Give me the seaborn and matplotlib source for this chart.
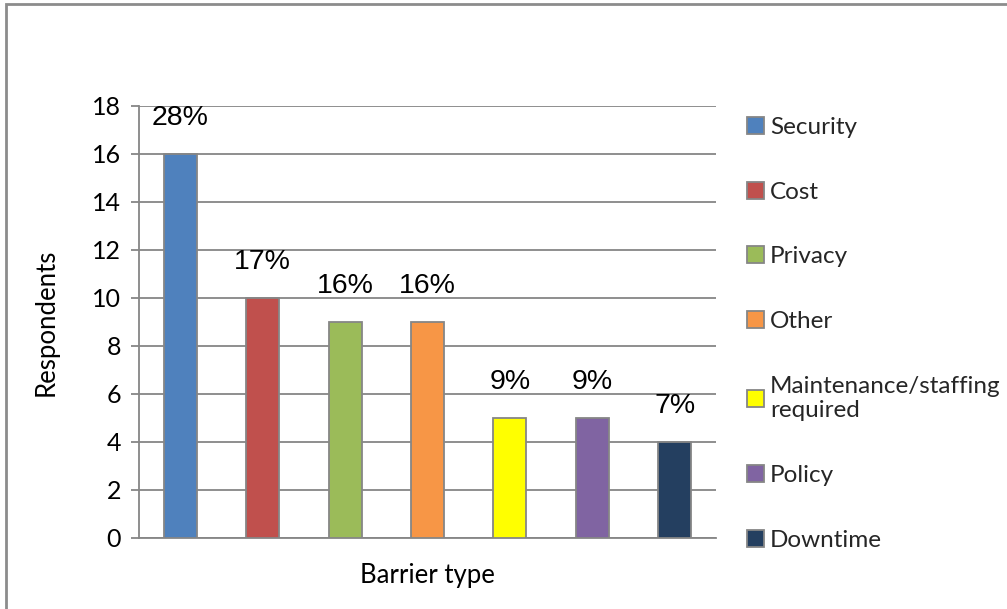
import matplotlib
matplotlib.use("Agg")
import matplotlib.pyplot as plt
from matplotlib.patches import Patch, Rectangle
import seaborn as sns
import pandas as pd

# Data
barriers = ["Security", "Cost", "Privacy", "Other",
            "Maintenance/staffing\nrequired", "Policy", "Downtime"]
respondents = [16, 10, 9, 9, 5, 5, 4]
percent_labels = ["28%", "17%", "16%", "16%", "9%", "9%", "7%"]
colors = ["#4F81BD", "#C0504D", "#9BBB59", "#F79646",
          "#FFFF00", "#8064A2", "#243F60"]
yticks = list(range(0, 19, 2))

df = pd.DataFrame({"barrier": barriers, "respondents": respondents})

sns.set_theme(style="white")
plt.rcParams["font.family"] = ["Lato", "DejaVu Sans"]

grid_col = "#868686"

fig = plt.figure(figsize=(10.07, 6.09), dpi=100)
ax = fig.add_axes([0.138, 0.1166, 0.573, 0.7094])

sns.barplot(data=df, x="barrier", y="respondents", hue="barrier",
            palette=colors, saturation=1, width=0.4, legend=False, ax=ax,
            edgecolor=grid_col, linewidth=1.3, zorder=3)

# percentage labels above bars
for i, (v, lab) in enumerate(zip(respondents, percent_labels)):
    ax.text(i, v + 1.5, lab, ha="center", va="center",
            fontsize=20.5, family="Liberation Sans", color="black", zorder=4)

ax.set_xlim(-0.5, len(barriers) - 0.5)
ax.set_ylim(0, 18)
ax.set_yticks(yticks)
ax.set_xticks([])
ax.yaxis.grid(True, color=grid_col, linewidth=1.3, zorder=0)
ax.set_axisbelow(True)
ax.tick_params(axis="y", which="major", left=True, length=6, width=1.3,
               color=grid_col, labelsize=18, pad=7, labelcolor="black")

for side in ["top", "right"]:
    ax.spines[side].set_visible(False)
for side in ["left", "bottom"]:
    ax.spines[side].set_color(grid_col)
    ax.spines[side].set_linewidth(1.3)

ax.set_xlabel("Barrier type", fontsize=18.5, color="black", labelpad=18)
ax.set_ylabel("Respondents", fontsize=18.5, color="black", labelpad=24)

# legend on the right
handles = [Patch(facecolor=c, edgecolor=grid_col, linewidth=1.3) for c in colors]
fig.legend(handles, barriers, loc="upper left", bbox_to_anchor=(0.732, 0.824),
           frameon=False, fontsize=17.5, handlelength=0.7, handleheight=0.7,
           handletextpad=0.25, labelspacing=1.8, borderaxespad=0)

# outer chart border (only top and left visible in the reference)
fig.patches.append(Rectangle((6 / 1007, -0.1), 1.2, 1.1 - 4 / 609,
                             transform=fig.transFigure, fill=False,
                             edgecolor="#8c8c8c", linewidth=2, clip_on=False))

fig.savefig("out.png", dpi=100)
